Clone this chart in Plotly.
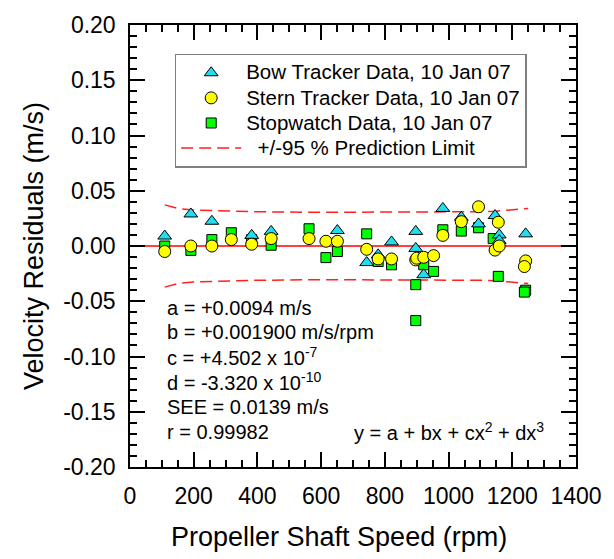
import plotly.graph_objects as go

# ---- data ----
bow_rpm = [109, 191, 257, 382, 443, 651, 743, 779, 821, 897, 897, 922, 982, 1040, 1094, 1146, 1159, 1159, 1242]
bow_res = [0.009, 0.029, 0.0224, 0.0096, 0.0132, 0.014, -0.015, -0.008, 0.0037, 0.0132, -0.0022, -0.026,
           0.034, 0.026, 0.020, 0.0275, 0.010, 0.005, 0.011]

stern_rpm = [109, 191, 257, 318, 382, 443, 562, 615, 651, 743, 779, 821, 897, 900, 922, 953, 982, 1040,
             1094, 1146, 1156, 1159, 1242, 1238]
stern_res = [-0.005, 0.000, 0.000, 0.0058, 0.0016, 0.0067, 0.0067, 0.0043, 0.0043, -0.003, -0.0117, -0.0117,
             -0.0126, -0.011, -0.0102, -0.0087, 0.0096, 0.022, 0.0355, -0.0037, 0.0215, 0.000, -0.0135, -0.0186]

stop_rpm = [109, 191, 257, 318, 382, 443, 562, 615, 651, 743, 779, 821, 897, 897, 922, 953, 982, 1040,
            1094, 1140, 1156, 1242, 1238]
stop_res = [0.000, -0.004, 0.0058, 0.012, 0.0058, 0.0007, 0.0156, -0.0105, -0.005, 0.011, -0.014, -0.017,
            -0.035, -0.0675, -0.017, -0.023, 0.0147, 0.0135, 0.0165, 0.0067, -0.0275, -0.040, -0.0417]

pl_rpm = [109, 150, 200, 300, 400, 600, 800, 1000, 1100, 1150, 1200, 1250]
pl_val = [0.0372, 0.0340, 0.0325, 0.0315, 0.031, 0.0305, 0.0305, 0.0305, 0.031, 0.0315, 0.0325, 0.034]

x_tick_vals = [0, 200, 400, 600, 800, 1000, 1200, 1400]
x_tick_text = ["0", "200", "400", "600", "800", "1000", "1200", "1400"]
y_tick_vals = [0.20, 0.15, 0.10, 0.05, 0.00, -0.05, -0.10, -0.15, -0.20]
y_tick_text = ["0.20", "0.15", "0.10", "0.05", "0.00", "-0.05", "-0.10", "-0.15", "-0.20"]

fit_lines = ["a = +0.0094 m/s", "b = +0.001900 m/s/rpm", "c = +4.502 x 10<sup>-7</sup>",
             "d = -3.320 x 10<sup>-10</sup>", "SEE = 0.0139 m/s", "r = 0.99982"]
equation = "y = a + bx + cx<sup>2</sup> + dx<sup>3</sup>"

FONT = "Arial, Liberation Sans, sans-serif"


def leg(name):
    return '<span style="font-size:20.5px">' + name + '</span>'


fig = go.Figure()

# prediction limits (upper & lower as one trace)
pl_x = pl_rpm + [None] + pl_rpm
pl_y = pl_val + [None] + [-v for v in pl_val]
fig.add_trace(go.Scatter(x=pl_x, y=pl_y, mode="lines", name=leg("  +/-95 % Prediction Limit"),
                         line=dict(color="#FF2020", width=1.5, dash="12px,6px"), legendrank=4))

fig.add_trace(go.Scatter(x=stop_rpm, y=stop_res, mode="markers", name=leg("Stopwatch Data, 10 Jan 07"),
                         marker=dict(symbol="square", size=10, color="#00FF00",
                                     line=dict(color="#000000", width=1)), legendrank=3))
fig.add_trace(go.Scatter(x=bow_rpm, y=bow_res, mode="markers", name=leg("Bow Tracker Data, 10 Jan 07"),
                         marker=dict(symbol="triangle-up", size=12, color="#22DDEE",
                                     line=dict(color="#000000", width=1)), legendrank=1))
fig.add_trace(go.Scatter(x=stern_rpm, y=stern_res, mode="markers", name=leg("Stern Tracker Data, 10 Jan 07"),
                         marker=dict(symbol="circle", size=12, color="#FFFF00",
                                     line=dict(color="#000000", width=1)), legendrank=2))

# zero line
fig.add_shape(type="line", xref="paper", x0=0, x1=1, yref="y", y0=0, y1=0,
              line=dict(color="#FF0000", width=1.5), layer="below")

annotations = []
fit_y = [-0.0557, -0.078, -0.1002, -0.1225, -0.1457, -0.168]
for txt, yy in zip(fit_lines, fit_y):
    annotations.append(dict(x=109, y=yy, xref="x", yref="y", text=txt, showarrow=False,
                            xanchor="left", yanchor="middle", font=dict(family=FONT, size=20, color="black")))
annotations.append(dict(x=697, y=-0.168, xref="x", yref="y", text=equation, showarrow=False,
                        xanchor="left", yanchor="middle", font=dict(family=FONT, size=20, color="black")))
# x axis title (slightly left of centre, as in the original)
annotations.append(dict(x=0.468, y=(467 - 538) / 449, xref="paper", yref="paper",
                        text="Propeller Shaft Speed (rpm)",
                        showarrow=False, xanchor="center", yanchor="middle",
                        font=dict(family=FONT, size=27, color="black")))

axis_common = dict(showline=True, linecolor="black", linewidth=1.5, mirror="allticks",
                   ticks="inside", ticklen=15, tickwidth=1.5, tickcolor="black",
                   showgrid=False, zeroline=False,
                   tickfont=dict(family=FONT, size=23, color="black"))

fig.update_layout(
    width=614, height=559,
    margin=dict(l=130, r=35, t=18, b=92),
    paper_bgcolor="white", plot_bgcolor="white",
    showlegend=True,
    legend=dict(x=0.1002, y=0.935, xanchor="left", yanchor="top",
                bordercolor="#808080", borderwidth=1.5, bgcolor="white",
                font=dict(family=FONT, size=17, color="black"),
                itemwidth=60, tracegroupgap=0),
    xaxis=dict(range=[0, 1400], tickvals=x_tick_vals, ticktext=x_tick_text,
               minor=dict(dtick=50, ticks="inside", ticklen=7, tickwidth=1.5, tickcolor="black"),
               ticklabelstandoff=8,
               **axis_common),
    yaxis=dict(range=[-0.20, 0.20], tickvals=y_tick_vals, ticktext=y_tick_text,
               minor=dict(dtick=0.01, ticks="inside", ticklen=7, tickwidth=1.5, tickcolor="black"),
               title=dict(text="Velocity Residuals (m/s)", font=dict(family=FONT, size=27, color="black"),
                          standoff=12),
               ticklabelstandoff=8,
               **axis_common),
    annotations=annotations,
)

fig.write_html("out.html")
